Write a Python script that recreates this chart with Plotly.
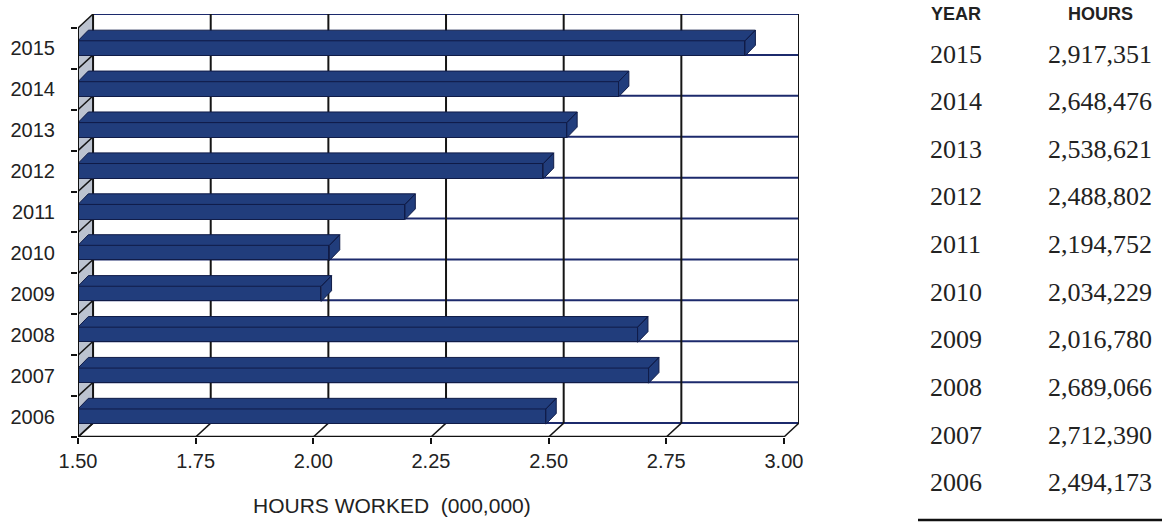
import plotly.graph_objects as go

# ---------------- data ----------------
years = [2006, 2007, 2008, 2009, 2010, 2011, 2012, 2013, 2014, 2015]
hours = [2494173, 2712390, 2689066, 2016780, 2034229, 2194752, 2488802, 2538621, 2648476, 2917351]
x_ticks = [1.50, 1.75, 2.00, 2.25, 2.50, 2.75, 3.00]
x_tick_labels = ["1.50", "1.75", "2.00", "2.25", "2.50", "2.75", "3.00"]
axis_title = "HOURS WORKED\u00a0\u00a0(000,000)"
table_headers = ["YEAR", "HOURS"]

values = [h / 1e6 for h in hours]  # millions of hours

# ---------------- style / geometry ----------------
W, H = 1162, 522
ML, MR, MT, MB = 78, 363, 14, 85
XMIN, XMAX = x_ticks[0], x_ticks[-1]
WALL_DX, WALL_DY = 0.032, 0.34          # depth of the 3-D box (data units)
BAR_W, BAR_DX, BAR_DY = 0.37, 0.022, 0.26
Y0, Y1 = years[0] - 0.5, years[-1] + 0.5
BAR_COLOR = "#213d7c"
BAR_EDGE = "#101c48"
GRID_H = "#1c2a6c"
GRID_V = "#151515"
TXT = "#222222"

plot_w = W - ML - MR
plot_h = H - MT - MB


def px_x(px):
    return (px - ML) / plot_w


def px_y(py):
    return (H - MB - py) / plot_h


fig = go.Figure()

# front faces of the bars
fig.add_trace(go.Bar(
    x=values, y=years, orientation="h", width=BAR_W,
    marker=dict(color=BAR_COLOR, line=dict(color=BAR_EDGE, width=1)),
    hovertemplate="%{y}: %{x:.3f}<extra></extra>", showlegend=False,
))

# top and end faces (3-D depth) computed from the data values
fx, fy = [], []
for yr, v in zip(years, values):
    top = yr + BAR_W / 2
    bot = yr - BAR_W / 2
    # top face
    fx += [XMIN, v, v + BAR_DX, XMIN + BAR_DX, XMIN, None]
    fy += [top, top, top + BAR_DY, top + BAR_DY, top, None]
    # end face
    fx += [v, v, v + BAR_DX, v + BAR_DX, v, None]
    fy += [bot, top, top + BAR_DY, bot + BAR_DY, bot, None]
fig.add_trace(go.Scatter(
    x=fx, y=fy, mode="lines", fill="toself", fillcolor=BAR_COLOR,
    line=dict(color=BAR_EDGE, width=1), hoverinfo="skip", showlegend=False,
))

shapes = []
# left wall
shapes.append(dict(type="path", layer="below", xref="x", yref="y",
                   path=f"M{XMIN},{Y0} L{XMIN},{Y1} L{XMIN+WALL_DX},{Y1+WALL_DY} L{XMIN+WALL_DX},{Y0+WALL_DY} Z",
                   fillcolor="#bcc3d0", line=dict(width=0)))
# back wall horizontal grid lines (category boundaries)
for k in range(len(years) + 1):
    b = Y0 + k
    shapes.append(dict(type="line", layer="below", xref="x", yref="y",
                       x0=XMIN + WALL_DX, x1=XMAX + WALL_DX, y0=b + WALL_DY, y1=b + WALL_DY,
                       line=dict(color=GRID_H, width=2)))
    # slanted line on the left wall
    shapes.append(dict(type="line", layer="below", xref="x", yref="y",
                       x0=XMIN, x1=XMIN + WALL_DX, y0=b, y1=b + WALL_DY,
                       line=dict(color=GRID_V, width=1.5)))
# back wall vertical grid lines and floor slants
for t in x_ticks:
    shapes.append(dict(type="line", layer="below", xref="x", yref="y",
                       x0=t + WALL_DX, x1=t + WALL_DX, y0=Y0 + WALL_DY, y1=Y1 + WALL_DY,
                       line=dict(color=GRID_V, width=2)))
    shapes.append(dict(type="line", layer="below", xref="x", yref="y",
                       x0=t, x1=t + WALL_DX, y0=Y0, y1=Y0 + WALL_DY,
                       line=dict(color=GRID_V, width=1.5)))
# front axis lines
shapes.append(dict(type="line", layer="above", xref="x", yref="y",
                   x0=XMIN, x1=XMAX, y0=Y0, y1=Y0, line=dict(color="#111", width=2.5)))
shapes.append(dict(type="line", layer="above", xref="x", yref="y",
                   x0=XMIN, x1=XMIN, y0=Y0, y1=Y1, line=dict(color="#111", width=2)))
# table bottom rule
shapes.append(dict(type="line", xref="paper", yref="paper",
                   x0=px_x(918), x1=px_x(1162), y0=px_y(520), y1=px_y(520),
                   line=dict(color="#111", width=2.5)))

annotations = []
# axis title
annotations.append(dict(text=axis_title, xref="paper", yref="paper",
                        x=px_x(392), y=px_y(505), xanchor="center", yanchor="middle",
                        showarrow=False, font=dict(family="Liberation Sans, Arial", size=21, color=TXT)))
# table
col_x = [956, 1100]
for cx, hd in zip(col_x, table_headers):
    annotations.append(dict(text=f"<b>{hd}</b>", xref="paper", yref="paper",
                            x=px_x(cx), y=px_y(14), xanchor="center", yanchor="middle",
                            showarrow=False, font=dict(family="Liberation Sans, Arial", size=18, color=TXT)))
row_top, row_step = 54, 47.66
for i, (yr, h) in enumerate(zip(reversed(years), reversed(hours))):
    py = row_top + i * row_step
    annotations.append(dict(text=str(yr), xref="paper", yref="paper",
                            x=px_x(col_x[0]), y=px_y(py), xanchor="center", yanchor="middle",
                            showarrow=False, font=dict(family="Liberation Serif, Times New Roman", size=26, color=TXT)))
    annotations.append(dict(text=f"{h:,}", xref="paper", yref="paper",
                            x=px_x(col_x[1]), y=px_y(py), xanchor="center", yanchor="middle",
                            showarrow=False, font=dict(family="Liberation Serif, Times New Roman", size=26, color=TXT)))

fig.update_layout(
    width=W, height=H,
    margin=dict(l=ML, r=MR, t=MT, b=MB, autoexpand=False),
    paper_bgcolor="white", plot_bgcolor="white",
    shapes=shapes, annotations=annotations,
    xaxis=dict(range=[XMIN, XMAX + WALL_DX], tickvals=x_ticks, ticktext=x_tick_labels,
               ticks="outside", ticklen=6, tickwidth=1.5, tickcolor="#111",
               showgrid=False, zeroline=False, showline=False,
               tickfont=dict(family="Liberation Sans, Arial", size=20, color=TXT)),
    yaxis=dict(range=[Y0, Y1 + WALL_DY], tickvals=years, ticktext=[str(y) for y in years],
               ticks="outside", ticklen=18, tickcolor="rgba(0,0,0,0)",
               showgrid=False, zeroline=False, showline=False,
               minor=dict(tickvals=[Y0 + k for k in range(len(years) + 1)], ticks="outside",
                          ticklen=6, tickwidth=1.5, tickcolor="#111", showgrid=False),
               tickfont=dict(family="Liberation Sans, Arial", size=20, color=TXT)),
    bargap=0,
)

fig.write_html("out.html")
